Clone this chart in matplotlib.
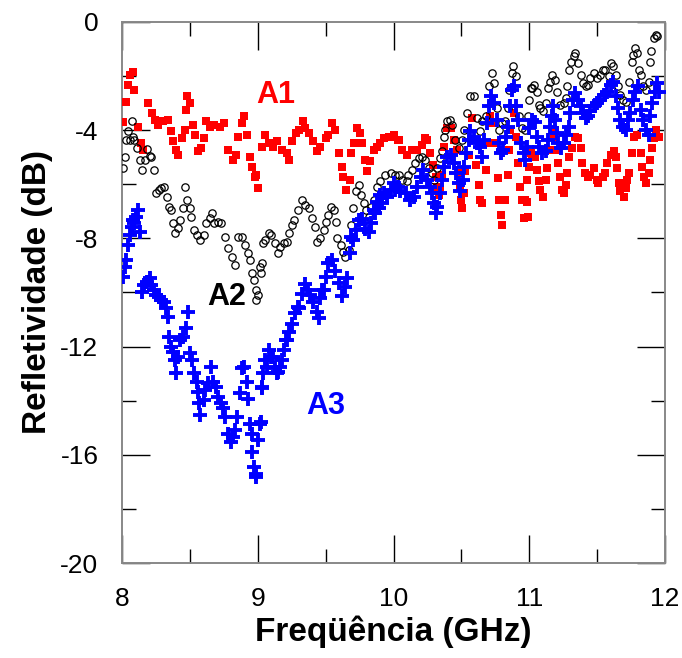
import matplotlib
matplotlib.use('Agg')
import matplotlib.pyplot as plt
import numpy as np

# A1 - quadrados vermelhos
a1_x = [8.007, 8.03, 8.045, 8.06, 8.08, 8.09, 8.12, 8.14, 8.155, 8.19, 8.22, 8.24, 8.265, 8.30, 8.34,
        8.36, 8.375, 8.40, 8.41, 8.44, 8.46, 8.47, 8.48, 8.50, 8.52, 8.54, 8.56, 8.585, 8.60, 8.62,
        8.645, 8.68, 8.72, 8.75, 8.78, 8.82, 8.84, 8.855, 8.88, 8.90, 8.92, 8.94, 8.955, 8.98, 8.99,
        9.00, 9.03, 9.055, 9.08, 9.115, 9.14, 9.18, 9.215, 9.23, 9.25, 9.28, 9.30, 9.33, 9.35, 9.375,
        9.41, 9.435, 9.46, 9.50, 9.52, 9.545, 9.57, 9.595, 9.62, 9.63, 9.65, 9.68, 9.69, 9.71, 9.73,
        9.755, 9.77, 9.79, 9.805, 9.83, 9.855, 9.88, 9.90, 9.93, 9.965, 9.98, 10.0, 10.03, 10.04, 10.06,
        10.10, 10.135, 10.17, 10.21, 10.235, 10.25, 10.27, 10.29, 10.31, 10.32, 10.335, 10.345, 10.36, 10.37, 10.395,
        10.42, 10.445, 10.47, 10.48, 10.49, 10.50, 10.505, 10.52, 10.53, 10.555, 10.58, 10.58, 10.61, 10.63, 10.64,
        10.65, 10.68, 10.69, 10.71, 10.725, 10.75, 10.77, 10.78, 10.79, 10.80, 10.825, 10.84, 10.85, 10.86, 10.885,
        10.90, 10.92, 10.935, 10.95, 10.96, 10.97, 10.985, 10.985, 10.99, 11.00, 11.01, 11.02, 11.045, 11.06, 11.07,
        11.08, 11.105, 11.12, 11.13, 11.155, 11.18, 11.19, 11.205, 11.215, 11.23, 11.24, 11.255, 11.27, 11.28, 11.29,
        11.315, 11.34, 11.36, 11.38, 11.39, 11.41, 11.43, 11.45, 11.475, 11.50, 11.51, 11.54, 11.56, 11.575, 11.60,
        11.625, 11.64, 11.65, 11.66, 11.67, 11.70, 11.71, 11.72, 11.735, 11.755, 11.77, 11.795, 11.82, 11.83, 11.845,
        11.86, 11.88, 11.89, 11.905, 11.92, 11.935, 11.955]
a1_y = [-3.70, -2.95, -2.33, -1.96, -1.84, -2.51, -3.87, -4.47, -4.73, -3.00, -3.37, -3.62, -3.81, -3.68, -3.62,
        -4.05, -4.42, -4.73, -4.92, -4.30, -3.99, -3.25, -2.76, -3.00, -3.81, -4.18, -4.79, -4.67, -4.30, -3.68,
        -3.87, -3.81, -3.87, -3.75, -4.73, -5.10, -4.92, -4.24, -3.75, -3.50, -4.18, -4.98, -5.35, -5.72, -5.66,
        -6.15, -4.61, -4.18, -4.48, -4.61, -4.42, -4.73, -4.85, -5.10, -4.42, -4.12, -3.99, -3.68, -3.93, -4.12,
        -4.42, -4.79, -4.61, -4.30, -4.18, -3.75, -3.99, -4.85, -5.35, -5.72, -6.21, -5.84, -4.85, -4.48, -3.93,
        -4.12, -4.48, -5.10, -5.53, -5.16, -4.73, -4.61, -4.48, -4.30, -4.24, -4.24, -4.18, -4.36, -4.36, -4.73,
        -4.92, -4.73, -4.73, -4.55, -4.30, -4.36, -4.85, -5.29, -5.72, -6.09, -6.40, -6.09, -5.66, -4.61, -3.93,
        -3.93, -4.36, -4.73, -5.60, -6.09, -6.58, -6.89, -6.33, -5.53, -4.92, -4.36, -3.56, -5.29, -6.03, -6.58,
        -6.70, -5.47, -4.48, -3.50, -3.75, -4.48, -5.78, -6.58, -7.13, -7.50, -6.58, -5.66, -4.73, -3.99, -3.38,
        -4.24, -5.22, -6.09, -6.58, -7.26, -6.58, -5.84, -6.64, -7.20, -5.35, -4.85, -4.98, -4.98, -5.47, -5.90,
        -6.21, -6.46, -5.84, -5.41, -4.73, -4.24, -3.99, -4.73, -5.22, -5.72, -6.21, -6.33, -6.03, -5.60, -4.98,
        -4.67, -4.24, -4.30, -4.67, -5.22, -5.60, -5.72, -5.66, -5.41, -5.84, -5.97, -5.72, -5.60, -5.22, -4.92,
        -4.79, -4.98, -5.41, -5.97, -6.27, -6.46, -6.15, -5.84, -5.60, -4.85, -4.24, -4.18, -4.85, -5.35, -5.72,
        -5.97, -5.60, -5.10, -4.67, -4.30, -3.99, -4.24]

# A2 - circulos pretos
a2_x = [8.007, 8.02, 8.03, 8.045, 8.055, 8.07, 8.08, 8.09, 8.11, 8.13, 8.15, 8.17, 8.185, 8.205, 8.215,
        8.235, 8.25, 8.27, 8.29, 8.31, 8.33, 8.345, 8.36, 8.375, 8.39, 8.41, 8.43, 8.45, 8.46, 8.48,
        8.50, 8.51, 8.53, 8.55, 8.575, 8.60, 8.62, 8.645, 8.66, 8.68, 8.71, 8.73, 8.76, 8.78, 8.81,
        8.83, 8.855, 8.885, 8.905, 8.93, 8.94, 8.955, 8.975, 8.99, 8.99, 9.00, 9.015, 9.02, 9.03, 9.04,
        9.055, 9.08, 9.10, 9.13, 9.15, 9.165, 9.19, 9.215, 9.23, 9.25, 9.27, 9.295, 9.325, 9.35, 9.375,
        9.40, 9.42, 9.435, 9.46, 9.485, 9.50, 9.52, 9.54, 9.56, 9.575, 9.585, 9.61, 9.625, 9.645, 9.67,
        9.69, 9.70, 9.72, 9.745, 9.76, 9.78, 9.80, 9.82, 9.835, 9.855, 9.88, 9.90, 9.94, 9.98, 10.01,
        10.04, 10.06, 10.10, 10.11, 10.135, 10.16, 10.185, 10.21, 10.235, 10.26, 10.285, 10.30, 10.32, 10.345, 10.355,
        10.37, 10.38, 10.395, 10.415, 10.43, 10.455, 10.48, 10.505, 10.52, 10.54, 10.565, 10.59, 10.615, 10.635, 10.65,
        10.68, 10.70, 10.725, 10.74, 10.76, 10.78, 10.80, 10.825, 10.84, 10.85, 10.87, 10.88, 10.90, 10.925, 10.95,
        10.97, 10.99, 11.00, 11.01, 11.02, 11.035, 11.06, 11.07, 11.08, 11.105, 11.12, 11.14, 11.155, 11.17, 11.19,
        11.205, 11.23, 11.255, 11.27, 11.28, 11.29, 11.305, 11.33, 11.34, 11.36, 11.38, 11.395, 11.415, 11.435, 11.45,
        11.475, 11.50, 11.52, 11.54, 11.56, 11.585, 11.605, 11.62, 11.64, 11.655, 11.67, 11.69, 11.71, 11.735, 11.755,
        11.765, 11.78, 11.795, 11.81, 11.82, 11.84, 11.86, 11.88, 11.89, 11.90, 11.92, 11.935, 11.94]
a2_y = [-5.41, -4.98, -4.36, -4.05, -4.36, -3.68, -4.24, -4.36, -4.67, -5.10, -5.47, -5.10, -4.71, -4.95, -4.98,
        -5.47, -6.33, -6.21, -6.15, -6.09, -6.46, -6.83, -6.95, -7.44, -7.81, -7.63, -7.32, -6.89, -6.09, -6.58,
        -6.89, -7.20, -7.69, -7.87, -8.06, -7.87, -7.44, -7.26, -7.07, -7.44, -7.38, -7.44, -7.94, -8.37, -8.68,
        -8.98, -7.94, -7.94, -8.24, -8.55, -8.80, -9.29, -9.54, -9.91, -10.28, -10.09, -9.05, -9.29, -8.92, -8.18,
        -8.06, -7.81, -7.87, -8.18, -8.55, -8.31, -8.18, -8.12, -7.81, -7.50, -7.32, -6.95, -6.58, -6.77, -6.89,
        -7.26, -7.57, -8.12, -8.00, -7.69, -7.38, -7.13, -6.83, -6.95, -7.38, -8.00, -8.24, -8.49, -8.68, -8.43,
        -7.50, -6.89, -6.27, -6.03, -6.40, -6.70, -6.95, -7.20, -6.83, -6.58, -6.09, -5.90, -5.66, -5.60, -5.66,
        -5.66, -5.84, -5.90, -5.66, -5.47, -5.22, -5.04, -4.98, -5.10, -5.41, -5.60, -5.84, -5.41, -5.04, -4.79,
        -4.24, -3.99, -3.68, -3.62, -3.81, -4.36, -4.67, -4.36, -3.99, -3.38, -2.76, -2.76, -3.56, -4.05, -3.68,
        -3.50, -2.39, -1.90, -2.27, -3.19, -3.99, -3.75, -3.68, -3.19, -2.51, -1.90, -1.65, -2.02, -3.50, -3.93,
        -3.99, -3.50, -2.88, -2.45, -2.45, -2.33, -2.58, -3.07, -3.19, -3.31, -3.01, -2.45, -2.21, -1.96, -2.14,
        -2.58, -3.07, -3.01, -2.82, -2.39, -1.77, -1.47, -1.28, -1.16, -1.53, -1.96, -2.27, -2.39, -2.33, -2.08,
        -1.90, -2.08, -1.96, -1.77, -1.77, -2.02, -1.53, -1.65, -1.96, -2.39, -2.70, -2.88, -2.95, -2.21, -1.47,
        -1.22, -0.97, -1.16, -1.77, -1.96, -2.39, -2.51, -2.21, -1.47, -1.10, -0.60, -0.48, -0.54]

# A3 - cruzes azuis
a3_x = [8.007, 8.02, 8.03, 8.045, 8.055, 8.07, 8.08, 8.09, 8.105, 8.12, 8.135, 8.15, 8.165, 8.185, 8.205,
        8.215, 8.235, 8.25, 8.27, 8.29, 8.31, 8.32, 8.335, 8.345, 8.36, 8.375, 8.39, 8.40, 8.41, 8.43,
        8.45, 8.47, 8.485, 8.50, 8.515, 8.53, 8.55, 8.56, 8.57, 8.575, 8.60, 8.61, 8.635, 8.655, 8.67,
        8.695, 8.71, 8.73, 8.745, 8.76, 8.78, 8.80, 8.82, 8.835, 8.85, 8.87, 8.885, 8.90, 8.92, 8.93,
        8.94, 8.955, 8.96, 8.975, 8.985, 8.99, 9.00, 9.015, 9.02, 9.03, 9.03, 9.04, 9.055, 9.065, 9.08,
        9.10, 9.115, 9.13, 9.14, 9.15, 9.165, 9.18, 9.19, 9.21, 9.215, 9.23, 9.25, 9.275, 9.295, 9.30,
        9.325, 9.35, 9.37, 9.385, 9.41, 9.435, 9.45, 9.46, 9.47, 9.485, 9.50, 9.52, 9.545, 9.57, 9.595,
        9.62, 9.645, 9.66, 9.68, 9.69, 9.705, 9.72, 9.745, 9.77, 9.79, 9.82, 9.835, 9.855, 9.865, 9.88,
        9.89, 9.90, 9.915, 9.93, 9.95, 9.98, 10.0, 10.01, 10.03, 10.05, 10.09, 10.12, 10.15, 10.17, 10.20,
        10.22, 10.25, 10.27, 10.285, 10.30, 10.31, 10.32, 10.34, 10.355, 10.375, 10.395, 10.42, 10.445, 10.46, 10.48,
        10.49, 10.51, 10.52, 10.535, 10.555, 10.565, 10.59, 10.615, 10.635, 10.65, 10.67, 10.69, 10.70, 10.72, 10.74,
        10.76, 10.78, 10.79, 10.81, 10.83, 10.84, 10.86, 10.87, 10.89, 10.905, 10.92, 10.94, 10.96, 10.97, 10.985,
        11.00, 11.02, 11.04, 11.06, 11.075, 11.095, 11.12, 11.14, 11.15, 11.165, 11.175, 11.19, 11.205, 11.215, 11.235,
        11.255, 11.27, 11.29, 11.30, 11.32, 11.34, 11.36, 11.38, 11.395, 11.415, 11.435, 11.45, 11.475, 11.50, 11.525,
        11.55, 11.575, 11.60, 11.615, 11.64, 11.655, 11.67, 11.69, 11.71, 11.73, 11.745, 11.765, 11.78, 11.80, 11.82,
        11.84, 11.86, 11.88, 11.89, 11.905, 11.925, 11.94, 11.955]
a3_y = [-9.41, -9.05, -8.80, -8.24, -7.87, -7.57, -7.32, -7.44, -7.20, -6.95, -7.75, -9.97, -9.72, -9.60, -9.48,
        -9.72, -9.91, -10.09, -10.15, -10.28, -10.34, -10.58, -10.89, -11.63, -12.00, -12.19, -12.50, -12.99, -12.37, -11.76,
        -11.63, -11.32, -10.71, -12.25, -12.50, -12.99, -13.30, -13.67, -14.10, -14.53, -13.97, -13.60, -13.36, -12.74, -13.30,
        -13.48, -13.85, -14.10, -14.28, -14.59, -15.21, -15.52, -15.33, -15.08, -14.59, -13.73, -12.80, -12.74, -13.30, -13.92,
        -14.84, -15.21, -15.88, -16.44, -16.69, -16.81, -15.45, -14.84, -14.78, -13.54, -13.48, -12.99, -12.50, -12.74, -12.13,
        -12.37, -12.37, -12.80, -12.99, -12.93, -12.74, -12.50, -12.13, -11.76, -11.76, -11.45, -11.17, -10.77, -10.52, -10.58,
        -10.06, -9.69, -9.91, -10.09, -10.34, -10.71, -10.95, -10.22, -9.91, -9.91, -9.41, -8.92, -8.80, -9.20, -9.66,
        -10.12, -9.79, -9.45, -8.55, -7.94, -8.06, -7.69, -7.32, -7.29, -7.66, -7.78, -7.44, -6.95, -7.07, -6.64,
        -6.89, -6.40, -6.70, -6.33, -6.46, -6.21, -5.97, -6.21, -6.09, -6.27, -6.33, -6.58, -6.46, -6.09, -5.72,
        -5.47, -5.84, -6.09, -6.33, -6.70, -7.07, -6.83, -6.33, -5.84, -5.35, -4.98, -4.92, -5.22, -5.60, -5.97,
        -6.27, -5.84, -5.35, -4.85, -4.36, -4.05, -4.24, -4.48, -4.61, -4.98, -4.36, -3.75, -3.13, -2.76, -3.01,
        -3.62, -4.48, -4.85, -4.73, -4.24, -3.87, -3.13, -2.51, -2.39, -3.13, -3.62, -4.48, -4.85, -5.10, -4.61,
        -3.93, -3.62, -3.72, -4.24, -4.61, -4.85, -4.79, -4.36, -3.87, -3.50, -3.13, -3.62, -4.12, -4.48, -4.67,
        -4.48, -4.18, -3.87, -3.38, -2.88, -2.64, -2.88, -3.13, -3.38, -3.56, -3.50, -3.31, -3.13, -3.01, -2.88,
        -2.70, -2.58, -2.33, -2.21, -2.76, -3.19, -3.62, -3.87, -3.99, -3.62, -3.38, -2.88, -2.58, -2.39, -3.25,
        -3.62, -3.99, -4.18, -3.50, -3.01, -2.58, -2.27, -2.58]

fig = plt.figure(figsize=(6.82, 6.58), dpi=100)
ax = fig.add_axes([0.179, 0.144, 0.796, 0.823])

ax.plot(a1_x, a1_y, 's', color='#ff0000', markersize=6, markeredgewidth=0, zorder=3)
ax.plot(a2_x, a2_y, 'o', markerfacecolor='none', markeredgecolor='black', markersize=5.3, markeredgewidth=0.9, zorder=4)
ax.plot(a3_x, a3_y, '+', color='#0000ff', markersize=9.5, markeredgewidth=2.8, zorder=5)

ax.set_xlim(8, 12)
ax.set_ylim(-20, 0)
ax.set_xticks([8, 9, 10, 11, 12])
ax.set_xticks(np.arange(8, 12.01, 0.5), minor=True)
ax.set_yticks([-20, -16, -12, -8, -4, 0])
ax.set_yticks(np.arange(-20, 0.01, 2), minor=True)
ax.set_yticklabels(['-20', '-16', '-12', '-8', '-4', '0'])

fnt = 'Liberation Sans'
ax.tick_params(which='both', direction='in', top=True, right=True, width=1, color='black')
ax.tick_params(which='major', length=20, pad=17)
ax.tick_params(which='minor', length=10)
for lbl in ax.get_xticklabels() + ax.get_yticklabels():
    lbl.set_fontfamily(fnt)
    lbl.set_fontsize(19)
for s in ax.spines.values():
    s.set_linewidth(1.4)
    s.set_color('#888888')

ax.set_xlabel('Freqüência (GHz)', fontfamily=fnt, fontsize=24, fontweight='bold', labelpad=3)
ax.set_ylabel('Refletividade (dB)', fontfamily=fnt, fontsize=24, fontweight='bold', labelpad=5)

ax.text(9.134, -2.70, 'A1', color='#ff0000', fontfamily=fnt, fontsize=22, fontweight='bold', ha='center', va='center')
ax.text(8.771, -10.16, 'A2', color='black', fontfamily=fnt, fontsize=22, fontweight='bold', ha='center', va='center')
ax.text(9.503, -14.20, 'A3', color='#0000ff', fontfamily=fnt, fontsize=22, fontweight='bold', ha='center', va='center')

fig.savefig('out.png', dpi=100)
